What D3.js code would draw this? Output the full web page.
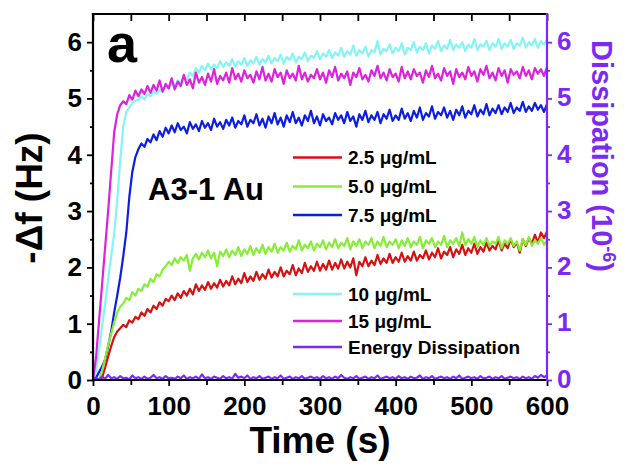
<!DOCTYPE html>
<html>
<head>
<meta charset="utf-8">
<script src="https://cdn.jsdelivr.net/npm/d3@7"></script>
<style>
  html, body { margin: 0; background: #fff; }
  svg { display: block; font-family: "Liberation Sans", Arial, sans-serif; }
</style>
</head>
<body>
<svg id="chart" width="633" height="466"></svg>
<script>
// QCM frequency shift (-Δf, Hz) versus time for five concentrations,
// plus the energy dissipation trace (10^-6) on the right axis.
// Samples are every 4 s from 0 s to 600 s.
const sampleStart = 0;
const sampleStep = 4;

const conc25 = [
  0.00,0.00,0.00,0.04,0.22,0.42,0.60,0.76,0.86,0.92,
  0.98,0.94,1.06,1.02,1.12,1.08,1.20,1.14,1.26,1.20,
  1.32,1.26,1.38,1.32,1.44,1.40,1.50,1.42,1.54,1.46,
  1.58,1.50,1.62,1.52,1.70,1.58,1.68,1.60,1.74,1.62,
  1.72,1.64,1.78,1.66,1.76,1.68,1.84,1.70,1.80,1.72,
  1.90,1.74,1.84,1.76,1.92,1.78,1.88,1.80,1.96,1.82,
  1.92,1.84,2.00,1.84,1.94,1.88,2.04,1.86,1.98,1.90,
  2.08,1.92,2.02,1.94,2.10,1.94,2.06,1.96,2.12,1.96,
  2.08,1.98,2.14,1.98,2.10,2.00,2.16,1.86,2.10,2.02,
  2.18,2.02,2.12,2.04,2.22,2.06,2.16,2.08,2.24,2.08,
  2.18,2.10,2.26,2.10,2.20,2.12,2.28,2.12,2.22,2.16,
  2.30,2.14,2.26,2.18,2.34,2.16,2.28,2.22,2.36,2.18,
  2.32,2.24,2.40,2.22,2.34,2.26,2.42,2.24,2.36,2.28,
  2.44,2.30,2.38,2.32,2.48,2.30,2.42,2.34,2.50,2.36,
  2.44,2.26,2.50,2.38,2.52,2.42,2.58,2.44,2.62,2.52,
  2.64
];

const conc50 = [
  0.00,0.00,0.02,0.16,0.38,0.62,0.82,1.02,1.20,1.30,
  1.36,1.46,1.42,1.56,1.50,1.62,1.58,1.70,1.66,1.80,
  1.74,1.88,1.84,1.96,2.02,2.10,2.04,2.16,2.08,2.18,
  2.12,2.22,1.94,2.16,2.24,2.14,2.26,2.18,2.30,2.16,
  2.26,2.02,2.28,2.20,2.32,2.18,2.30,2.22,2.36,2.20,
  2.32,2.24,2.38,2.22,2.34,2.26,2.40,2.24,2.36,2.28,
  2.42,2.26,2.36,2.30,2.44,2.28,2.38,2.32,2.48,2.30,
  2.40,2.34,2.46,2.30,2.42,2.36,2.48,2.32,2.44,2.36,
  2.50,2.34,2.44,2.38,2.52,2.32,2.46,2.38,2.50,2.34,
  2.46,2.40,2.52,2.34,2.46,2.38,2.54,2.36,2.46,2.40,
  2.50,2.34,2.48,2.38,2.52,2.36,2.46,2.40,2.54,2.34,
  2.48,2.42,2.52,2.36,2.46,2.40,2.56,2.36,2.48,2.42,
  2.52,2.38,2.62,2.40,2.50,2.42,2.54,2.36,2.48,2.40,
  2.52,2.38,2.46,2.42,2.54,2.34,2.48,2.42,2.52,2.38,
  2.46,2.30,2.50,2.40,2.54,2.38,2.48,2.42,2.52,2.40,
  2.48
];

const conc75 = [
  0.00,0.04,0.14,0.24,0.36,0.60,0.86,1.20,1.50,1.82,
  2.20,2.62,3.25,3.70,3.96,4.10,4.20,4.14,4.28,4.22,
  4.36,4.26,4.42,4.32,4.48,4.38,4.52,4.40,4.56,4.44,
  4.50,4.38,4.58,4.46,4.54,4.42,4.60,4.48,4.56,4.44,
  4.64,4.50,4.58,4.46,4.62,4.52,4.66,4.48,4.60,4.54,
  4.70,4.50,4.62,4.56,4.72,4.52,4.64,4.48,4.68,4.56,
  4.74,4.54,4.66,4.50,4.70,4.58,4.76,4.56,4.66,4.52,
  4.70,4.60,4.78,4.56,4.68,4.52,4.72,4.60,4.66,4.54,
  4.74,4.62,4.70,4.56,4.76,4.60,4.68,4.50,4.72,4.62,
  4.78,4.58,4.70,4.62,4.76,4.56,4.72,4.64,4.80,4.60,
  4.70,4.62,4.82,4.64,4.74,4.60,4.78,4.66,4.84,4.62,
  4.74,4.68,4.86,4.64,4.76,4.70,4.84,4.66,4.78,4.62,
  4.80,4.70,4.86,4.66,4.78,4.72,4.88,4.68,4.80,4.72,
  4.90,4.70,4.82,4.74,4.88,4.72,4.84,4.76,4.92,4.74,
  4.84,4.78,4.94,4.76,4.86,4.78,4.92,4.80,4.88,4.76,
  4.90
];

const conc10 = [
  0.00,0.15,0.55,0.95,1.35,1.80,2.20,2.60,3.20,3.90,
  4.50,4.76,4.84,4.92,4.96,4.98,5.04,4.98,5.08,5.04,
  5.12,5.08,5.16,5.12,5.20,5.18,5.26,5.22,5.32,5.28,
  5.38,5.34,5.46,5.40,5.54,5.46,5.58,5.50,5.62,5.52,
  5.60,5.54,5.66,5.56,5.64,5.58,5.70,5.56,5.66,5.60,
  5.72,5.58,5.68,5.62,5.74,5.60,5.70,5.64,5.76,5.62,
  5.72,5.66,5.78,5.62,5.74,5.68,5.80,5.64,5.74,5.70,
  5.82,5.66,5.76,5.72,5.84,5.70,5.80,5.74,5.86,5.72,
  5.82,5.76,5.90,5.74,5.84,5.78,5.94,5.76,5.86,5.80,
  5.92,5.74,5.86,5.82,6.02,5.78,5.88,5.84,5.96,5.80,
  5.90,5.84,5.98,5.78,5.90,5.86,6.00,5.82,5.92,5.86,
  5.98,5.80,5.94,5.88,6.02,5.84,5.94,5.88,6.04,5.86,
  5.96,5.90,6.00,5.84,5.96,5.90,6.06,5.86,5.96,5.92,
  6.02,5.86,5.98,5.92,6.06,5.88,5.98,5.92,6.04,5.88,
  5.98,5.94,6.08,5.90,6.00,5.94,6.06,5.90,6.02,5.96,
  6.04
];

const conc15 = [
  0.00,0.40,1.05,1.70,2.35,3.00,3.70,4.40,4.72,4.88,
  4.95,4.90,5.06,4.98,5.14,5.04,5.16,5.08,5.22,5.10,
  5.24,5.14,5.32,5.12,5.26,5.18,5.36,5.16,5.30,5.22,
  5.42,5.24,5.34,5.18,5.46,5.28,5.38,5.24,5.44,5.30,
  5.52,5.26,5.40,5.32,5.46,5.28,5.54,5.34,5.44,5.30,
  5.50,5.36,5.42,5.28,5.48,5.34,5.56,5.32,5.44,5.30,
  5.52,5.38,5.46,5.26,5.50,5.36,5.44,5.32,5.58,5.34,
  5.46,5.30,5.42,5.36,5.52,5.34,5.46,5.28,5.50,5.38,
  5.56,5.32,5.44,5.36,5.48,5.24,5.46,5.38,5.54,5.34,
  5.42,5.30,5.50,5.40,5.58,5.36,5.46,5.32,5.52,5.38,
  5.44,5.30,5.56,5.36,5.48,5.34,5.52,5.40,5.46,5.28,
  5.50,5.38,5.58,5.36,5.44,5.32,5.54,5.40,5.48,5.26,
  5.52,5.38,5.46,5.34,5.56,5.40,5.48,5.30,5.52,5.42,
  5.58,5.36,5.46,5.32,5.54,5.40,5.50,5.28,5.52,5.42,
  5.48,5.36,5.56,5.40,5.50,5.34,5.54,5.44,5.52,5.40,
  5.56
];

const dissipation = [
  0.02,0.03,0.01,0.06,0.02,0.09,0.03,0.05,0.02,0.07,
  0.03,0.04,0.01,0.08,0.03,0.05,0.02,0.06,0.02,0.04,
  0.09,0.03,0.05,0.02,0.07,0.03,0.04,0.02,0.06,0.03,
  0.08,0.02,0.05,0.03,0.06,0.02,0.10,0.03,0.05,0.02,
  0.06,0.04,0.02,0.07,0.03,0.05,0.02,0.11,0.04,0.06,
  0.03,0.08,0.02,0.05,0.03,0.07,0.02,0.04,0.06,0.02,
  0.05,0.03,0.08,0.02,0.04,0.06,0.02,0.05,0.03,0.07,
  0.02,0.04,0.06,0.03,0.05,0.02,0.07,0.03,0.05,0.02,
  0.06,0.03,0.09,0.04,0.02,0.05,0.03,0.07,0.02,0.04,
  0.06,0.02,0.05,0.03,0.08,0.02,0.04,0.06,0.03,0.05,
  0.02,0.07,0.03,0.05,0.02,0.06,0.03,0.04,0.08,0.02,
  0.05,0.03,0.07,0.02,0.04,0.06,0.03,0.05,0.02,0.06,
  0.03,0.08,0.02,0.04,0.06,0.03,0.05,0.02,0.07,0.03,
  0.04,0.06,0.02,0.05,0.03,0.07,0.02,0.04,0.06,0.03,
  0.05,0.02,0.06,0.03,0.05,0.02,0.07,0.04,0.09,0.05,
  0.08
];

const seriesLabels = ["2.5 μg/mL", "5.0 μg/mL", "7.5 μg/mL", "10 μg/mL", "15 μg/mL", "Energy Dissipation"];
const seriesValues = [conc25, conc50, conc75, conc10, conc15, dissipation];
const seriesColors = ["#d81010", "#86ee36", "#0c1ee2", "#84f4f4", "#dc22dc", "#7a2af2"];
const drawOrder = [3, 4, 2, 0, 1, 5];

const xMajorTicks = [0, 100, 200, 300, 400, 500, 600];
const yMajorTicks = [0, 1, 2, 3, 4, 5, 6];
const dissipationTicks = [0, 1, 2, 3, 4, 5, 6];

const purple = "#7a2af2";
const svg = d3.select("#chart");

const x = d3.scaleLinear().domain([0, 600]).range([93, 547]);
const y = d3.scaleLinear().domain([0, 6.5]).range([380, 14]);
const yRight = d3.scaleLinear().domain([0, 6.5]).range([380, 14]);

const [x0, x1] = x.range();
const [yBottom, yTop] = y.range();
const intFormat = d3.format("d");

// traces, clipped to the plot frame
svg.append("clipPath").attr("id", "plotClip")
  .append("rect")
  .attr("x", x0).attr("y", yTop)
  .attr("width", x1 - x0).attr("height", yBottom - yTop);

const plot = svg.append("g").attr("clip-path", "url(#plotClip)");

drawOrder.forEach(k => {
  const scaleY = k === 5 ? yRight : y;
  const line = d3.line()
    .x((d, i) => x(sampleStart + i * sampleStep))
    .y(d => scaleY(d));
  plot.append("path")
    .datum(seriesValues[k])
    .attr("fill", "none")
    .attr("stroke", seriesColors[k])
    .attr("stroke-width", 2.2)
    .attr("stroke-linejoin", "round")
    .attr("d", line);
});

// axes
const tickFont = g => g.selectAll("text")
  .attr("font-size", 26).attr("font-weight", "bold")
  .attr("font-family", "'Liberation Sans', Arial, sans-serif");

const xMinor = d3.range(0, 601, 50).filter(v => !xMajorTicks.includes(v));
const yMinor = d3.range(0.5, 6.5, 1);

const axisBottomG = svg.append("g").attr("transform", `translate(0,${yBottom})`);
axisBottomG.call(d3.axisBottom(x).tickValues(xMajorTicks).tickFormat(intFormat)
    .tickSize(6).tickPadding(11).tickSizeOuter(0))
  .call(tickFont);
axisBottomG.append("g").call(d3.axisBottom(x).tickValues(xMinor).tickSize(5).tickFormat(""));

const axisTopG = svg.append("g").attr("transform", `translate(0,${yTop})`);
axisTopG.call(d3.axisTop(x).tickValues(d3.range(0, 601, 50)).tickSize(-7).tickFormat(""));

const axisLeftG = svg.append("g").attr("transform", `translate(${x0},0)`);
axisLeftG.call(d3.axisLeft(y).tickValues(yMajorTicks).tickFormat(intFormat)
    .tickSize(6).tickPadding(5).tickSizeOuter(0))
  .call(tickFont);
axisLeftG.append("g").call(d3.axisLeft(y).tickValues(yMinor).tickSize(3).tickFormat(""));

const axisRightG = svg.append("g").attr("transform", `translate(${x1},0)`);
axisRightG.call(d3.axisRight(yRight).tickValues(dissipationTicks).tickFormat(intFormat)
    .tickSize(5).tickPadding(5).tickSizeOuter(0))
  .call(tickFont);
axisRightG.append("g").call(d3.axisRight(yRight).tickValues(yMinor).tickSize(3).tickFormat(""));
axisRightG.selectAll("line").attr("stroke", purple);
axisRightG.selectAll("text").attr("fill", purple).attr("dy", "0.28em");

svg.selectAll(".domain").remove();
svg.selectAll(".tick line").attr("stroke-width", 1.8);
axisBottomG.selectAll("text").attr("fill", "#000");
axisLeftG.selectAll("text").attr("fill", "#000");

// frame
const frame = svg.append("g").attr("stroke-width", 2.2).attr("stroke-linecap", "square");
frame.append("line").attr("x1", x0).attr("x2", x0).attr("y1", yTop).attr("y2", yBottom).attr("stroke", "#000");
frame.append("line").attr("x1", x0).attr("x2", x1).attr("y1", yTop).attr("y2", yTop).attr("stroke", "#000");
frame.append("line").attr("x1", x0).attr("x2", x1).attr("y1", yBottom).attr("y2", yBottom).attr("stroke", "#000");
frame.append("line").attr("x1", x1).attr("x2", x1).attr("y1", yTop).attr("y2", yBottom).attr("stroke", purple);

// axis titles
svg.append("text")
  .attr("transform", "translate(42,198) rotate(-90)")
  .attr("text-anchor", "middle")
  .attr("font-size", 37).attr("font-weight", "bold")
  .text("-Δf (Hz)");

svg.append("text")
  .attr("x", 320).attr("y", 453)
  .attr("text-anchor", "middle")
  .attr("font-size", 37).attr("font-weight", "bold")
  .text("Time (s)");

const dissTitle = svg.append("text")
  .attr("transform", "translate(592,156) rotate(90)")
  .attr("text-anchor", "middle")
  .attr("font-size", 29).attr("font-weight", "bold")
  .attr("fill", purple);
dissTitle.append("tspan").text("Dissipation (10");
dissTitle.append("tspan").attr("font-size", 18).attr("dy", -11).text("-6");
dissTitle.append("tspan").attr("dy", 11).text(")");

// panel letter and sample name
svg.append("text").attr("x", 107).attr("y", 62)
  .attr("font-size", 54).attr("font-weight", "bold").text("a");
svg.append("text").attr("x", 148).attr("y", 200)
  .attr("font-size", 31).attr("font-weight", "bold").text("A3-1 Au");

// legend
const legendRows = [157.5, 186.5, 215, 294, 321, 347];
const legend = svg.append("g");
seriesLabels.forEach((label, k) => {
  const row = legend.append("g").attr("transform", `translate(293,${legendRows[k]})`);
  row.append("line").attr("x1", 0).attr("x2", 49)
    .attr("stroke", seriesColors[k]).attr("stroke-width", 2.5);
  row.append("text").attr("x", 55).attr("dy", "0.36em")
    .attr("font-size", 19).attr("font-weight", "bold").text(label);
});
</script>
</body>
</html>
